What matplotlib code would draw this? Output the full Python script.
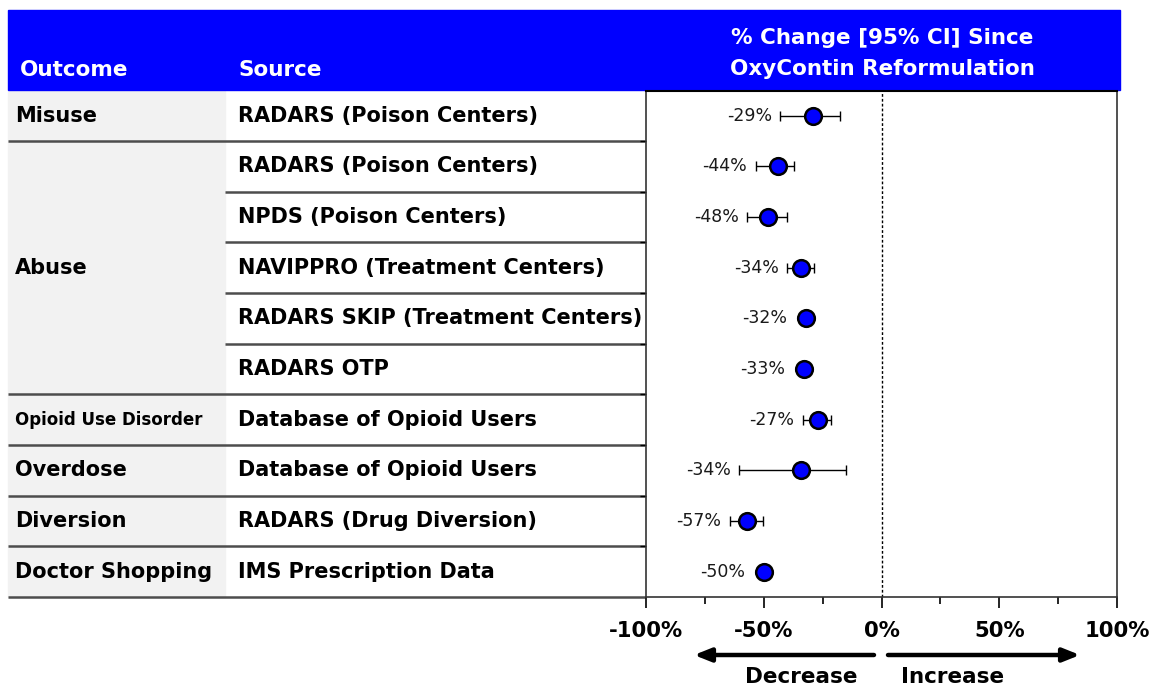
import matplotlib
matplotlib.use("Agg")
import matplotlib.pyplot as plt
from matplotlib.patches import Rectangle

# ---- data ----
outcomes = ["Misuse", "Abuse", "Opioid Use Disorder", "Overdose", "Diversion", "Doctor Shopping"]
outcome_rows = [1, 5, 1, 1, 1, 1]  # rows spanned per outcome
sources = ["RADARS (Poison Centers)", "RADARS (Poison Centers)", "NPDS (Poison Centers)",
           "NAVIPPRO (Treatment Centers)", "RADARS SKIP (Treatment Centers)", "RADARS OTP",
           "Database of Opioid Users", "Database of Opioid Users",
           "RADARS (Drug Diversion)", "IMS Prescription Data"]
estimates = [-29, -44, -48, -34, -32, -33, -27, -34, -57, -50]
ci_low = [-43, -53.5, -57, -40, -34, -35, -33.5, -60.5, -64.5, -52]
ci_high = [-17.5, -37, -40, -28.5, -30, -31, -21.5, -15, -50.5, -48]
x_ticks = [-100, -50, 0, 50, 100]
x_tick_labels = ["-100%", "-50%", "0%", "50%", "100%"]

W, H = 1156, 686
fig = plt.figure(figsize=(W / 100, H / 100), dpi=100)

FONT = "DejaVu Sans"

# background axes in pixel coordinates for the table
bg = fig.add_axes([0, 0, 1, 1])
bg.set_xlim(0, W)
bg.set_ylim(H, 0)
bg.axis("off")

top, bottom = 90.5, 597
n = len(sources)
rh = (bottom - top) / n
x_left, x_mid, x_plot, x_right = 8, 225, 646, 1118

# header
bg.add_patch(Rectangle((x_left, 10), 1120 - x_left, 80, color="#0000ff", zorder=1))
hfont = dict(family=FONT, weight="bold", color="white", fontsize=15.5)
bg.text(20, 70, "Outcome", va="center", ha="left", **hfont)
bg.text(238, 70, "Source", va="center", ha="left", **hfont)
bg.text(882, 38, "% Change [95% CI] Since", va="center", ha="center", **hfont)
bg.text(882, 69, "OxyContin Reformulation", va="center", ha="center", **hfont)

# gray outcome column
bg.add_patch(Rectangle((x_left, top), x_mid - x_left, bottom - top, color="#f2f2f2", zorder=0))

tfont = dict(family=FONT, weight="bold", color="black")
for i, s in enumerate(sources):
    yc = top + rh * (i + 0.5)
    bg.text(238, yc, s, va="center", ha="left", fontsize=15, **tfont)

row = 0
group_bounds = set()
for name, span in zip(outcomes, outcome_rows):
    yc = top + rh * (row + span / 2)
    fs = 12 if name == "Opioid Use Disorder" else 15
    bg.text(15, yc, name, va="center", ha="left", fontsize=fs, **tfont)
    row += span
    group_bounds.add(row)

lc = "#4d4d4d"
for k in range(1, n + 1):
    y = top + rh * k
    if k in group_bounds:
        bg.plot([x_left, x_plot - 1], [y, y], color=lc, lw=1.8, solid_capstyle="butt")
    else:
        bg.plot([x_mid, x_plot - 1], [y, y], color=lc, lw=1.8, solid_capstyle="butt")

# forest axes
ax = fig.add_axes([x_plot / W, (H - bottom) / H, (1117 - x_plot) / W, (bottom - top) / H])
ax.set_xlim(-100, 100)
ax.set_ylim(n - 0.5, -0.5)
ax.axvline(0, color="black", lw=1, ls=(0, (2, 1.5)), zorder=1)
ypos = list(range(n))
xerr = [[e - l for e, l in zip(estimates, ci_low)], [h - e for e, h in zip(estimates, ci_high)]]
ax.errorbar(estimates, ypos, xerr=xerr, fmt="none", ecolor="black", elinewidth=1,
            capsize=3.5, capthick=1, zorder=2)
ax.plot(estimates, ypos, "o", color="#0000ff", markeredgecolor="black", markersize=12,
        markeredgewidth=1.8, zorder=3, linestyle="none")
for e, l, y in zip(estimates, ci_low, ypos):
    ax.annotate(f"{e}%", xy=(min(l, e - 4.5), y), xytext=(-6, 0), textcoords="offset points",
                ha="right", va="center", fontsize=12.5, family=FONT, color="#1a1a1a")

for sp in ax.spines.values():
    sp.set_color("#333333")
    sp.set_linewidth(1.2)
ax.spines["top"].set_color("black")
ax.spines["top"].set_linewidth(1.5)
ax.set_xticks(x_ticks)
ax.set_xticklabels(x_tick_labels, fontsize=15.2, family=FONT, weight="bold")
ax.set_xticks([-75, -25, 25, 75], minor=True)
ax.tick_params(axis="x", which="major", length=8, width=1.2, direction="out", pad=9)
ax.tick_params(axis="x", which="minor", length=5, width=1.2, direction="out")
ax.set_yticks([i + 0.5 for i in range(n - 1)])
ax.set_yticklabels([])
ax.tick_params(axis="y", length=4, width=1, direction="out")

# direction arrows
arrow = dict(arrowstyle="-|>,head_length=1.0,head_width=0.4", lw=3.2, color="black",
             shrinkA=0, shrinkB=0)
bg.annotate("", xy=(694, 655), xytext=(874, 655), arrowprops=arrow)
bg.annotate("", xy=(1080, 655), xytext=(888, 655), arrowprops=arrow)
bg.text(801, 677, "Decrease", ha="center", va="center", fontsize=15.5, **tfont)
bg.text(953, 677, "Increase", ha="center", va="center", fontsize=15.5, **tfont)

fig.savefig("out.png", dpi=100)
